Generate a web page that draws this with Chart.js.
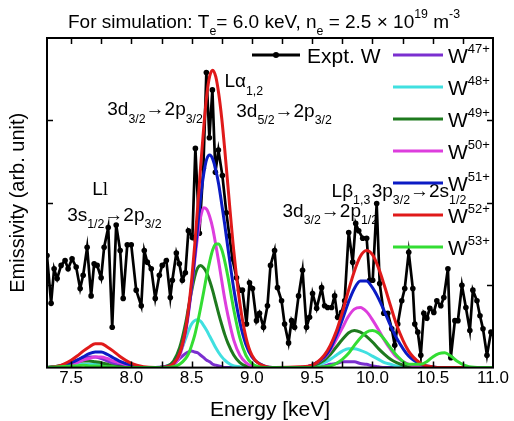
<!DOCTYPE html>
<html>
<head>
<meta charset="utf-8">
<script src="https://cdn.jsdelivr.net/npm/chart.js@4.4.1/dist/chart.umd.min.js"></script>
<style>
  html, body { margin: 0; padding: 0; background: #fff; }
</style>
</head>
<body>
<canvas id="chart" width="514" height="421"></canvas>
<script>
// ---- data -------------------------------------------------------------
// Energy grid (keV) shared by the simulated spectra
const energyGrid = [7.3, 7.4, 7.5, 7.55, 7.6, 7.65, 7.7, 7.75, 7.8, 7.85, 7.9, 8.0, 8.1, 8.2, 8.3, 8.35, 8.4, 8.45,
  8.475, 8.5, 8.525, 8.55, 8.575, 8.6, 8.625, 8.65, 8.675, 8.7, 8.725, 8.75, 8.775, 8.8,
  8.85, 8.9, 8.95, 9.0, 9.1, 9.2, 9.4, 9.5, 9.6, 9.65, 9.7, 9.75, 9.8, 9.85, 9.9, 9.95, 10.0,
  10.05, 10.1, 10.15, 10.2, 10.3, 10.4, 10.45, 10.5, 10.55, 10.6, 10.65, 10.7, 10.8, 10.9, 11.0];

// Simulated emissivity per charge state (arb. unit)
const w47 = [0.00, 0.02, 0.06, 0.09, 0.12, 0.13, 0.13, 0.11, 0.08, 0.05, 0.03, 0.01, 0.00, 0.00, 0.02, 0.05, 0.11, 0.17,
  0.19, 0.20, 0.19, 0.18, 0.15, 0.12, 0.09, 0.07, 0.04, 0.03, 0.02, 0.01, 0.00, 0.00,
  0.00, 0.00, 0.00, 0.00, 0.00, 0.00, 0.00, 0.00, 0.02, 0.04, 0.05, 0.07, 0.07, 0.07, 0.05, 0.04, 0.02,
  0.01, 0.00, 0.00, 0.00, 0.00, 0.00, 0.00, 0.00, 0.00, 0.00, 0.00, 0.00, 0.00, 0.00, 0.00];
const w48 = [0.00, 0.01, 0.03, 0.04, 0.04, 0.04, 0.04, 0.03, 0.02, 0.01, 0.00, 0.00, 0.00, 0.00, 0.02, 0.06, 0.17, 0.35,
  0.45, 0.53, 0.57, 0.58, 0.56, 0.51, 0.45, 0.38, 0.31, 0.24, 0.18, 0.13, 0.09, 0.06,
  0.02, 0.01, 0.00, 0.00, 0.00, 0.00, 0.00, 0.01, 0.06, 0.10, 0.15, 0.20, 0.23, 0.23, 0.21, 0.18, 0.14,
  0.10, 0.06, 0.04, 0.02, 0.00, 0.00, 0.00, 0.00, 0.00, 0.00, 0.00, 0.00, 0.00, 0.00, 0.00];
const w49 = [0.00, 0.02, 0.05, 0.07, 0.08, 0.08, 0.07, 0.06, 0.04, 0.02, 0.01, 0.00, 0.00, 0.00, 0.02, 0.08, 0.24, 0.54,
  0.74, 0.93, 1.10, 1.21, 1.24, 1.21, 1.15, 1.05, 0.93, 0.79, 0.65, 0.52, 0.40, 0.30,
  0.15, 0.06, 0.02, 0.01, 0.00, 0.00, 0.00, 0.02, 0.09, 0.16, 0.25, 0.34, 0.42, 0.45, 0.43, 0.38, 0.31,
  0.23, 0.16, 0.10, 0.06, 0.01, 0.00, 0.00, 0.00, 0.00, 0.00, 0.00, 0.00, 0.00, 0.00, 0.00];
const w50 = [0.00, 0.01, 0.04, 0.06, 0.09, 0.11, 0.13, 0.13, 0.11, 0.08, 0.06, 0.02, 0.00, 0.00, 0.01, 0.03, 0.14, 0.43,
  0.67, 0.97, 1.29, 1.60, 1.83, 1.94, 1.92, 1.83, 1.69, 1.49, 1.28, 1.05, 0.83, 0.64,
  0.33, 0.15, 0.06, 0.02, 0.00, 0.00, 0.00, 0.03, 0.12, 0.21, 0.34, 0.48, 0.62, 0.71, 0.73, 0.68, 0.58,
  0.46, 0.33, 0.22, 0.13, 0.04, 0.01, 0.00, 0.00, 0.00, 0.00, 0.00, 0.00, 0.00, 0.00, 0.00];
const w51 = [0.00, 0.01, 0.06, 0.09, 0.13, 0.17, 0.19, 0.19, 0.16, 0.12, 0.08, 0.03, 0.00, 0.00, 0.01, 0.05, 0.17, 0.46,
  0.70, 0.99, 1.34, 1.71, 2.07, 2.35, 2.53, 2.58, 2.53, 2.40, 2.22, 1.98, 1.73, 1.46,
  0.95, 0.55, 0.28, 0.13, 0.02, 0.00, 0.00, 0.03, 0.13, 0.23, 0.39, 0.58, 0.79, 0.96, 1.05, 1.05, 0.97,
  0.84, 0.68, 0.51, 0.36, 0.14, 0.04, 0.02, 0.01, 0.00, 0.00, 0.00, 0.00, 0.00, 0.00, 0.00];
const w52 = [0.00, 0.02, 0.09, 0.14, 0.20, 0.25, 0.29, 0.29, 0.25, 0.20, 0.14, 0.05, 0.01, 0.00, 0.01, 0.05, 0.17, 0.47,
  0.73, 1.06, 1.48, 1.95, 2.45, 2.91, 3.30, 3.54, 3.61, 3.53, 3.32, 3.02, 2.64, 2.22,
  1.41, 0.78, 0.37, 0.15, 0.02, 0.00, 0.01, 0.03, 0.15, 0.27, 0.44, 0.67, 0.93, 1.17, 1.35, 1.42, 1.37,
  1.21, 0.99, 0.75, 0.52, 0.20, 0.05, 0.02, 0.01, 0.00, 0.00, 0.00, 0.00, 0.00, 0.00, 0.00];
const w53 = [0.00, 0.01, 0.02, 0.02, 0.03, 0.02, 0.02, 0.02, 0.01, 0.01, 0.00, 0.00, 0.00, 0.00, 0.00, 0.01, 0.04, 0.11,
  0.17, 0.27, 0.39, 0.55, 0.73, 0.92, 1.12, 1.29, 1.43, 1.50, 1.50, 1.43, 1.29, 1.11,
  0.70, 0.36, 0.15, 0.05, 0.00, 0.00, 0.00, 0.00, 0.01, 0.02, 0.05, 0.10, 0.17, 0.27, 0.36, 0.43, 0.45,
  0.42, 0.34, 0.24, 0.15, 0.04, 0.04, 0.07, 0.13, 0.17, 0.18, 0.14, 0.08, 0.01, 0.00, 0.00];

// Measured spectrum
const exptEnergy = [7.300, 7.334, 7.359, 7.384, 7.417, 7.450, 7.475, 7.508, 7.542, 7.575, 7.600, 7.633, 7.666, 7.691,
  7.716, 7.749, 7.774, 7.808, 7.841, 7.874, 7.907, 7.932, 7.966, 7.999, 8.040, 8.082, 8.107, 8.132, 8.165,
  8.198, 8.232, 8.256, 8.290, 8.323, 8.340, 8.373, 8.398, 8.423, 8.448, 8.473, 8.506, 8.531, 8.564, 8.597,
  8.622, 8.647, 8.672, 8.697, 8.722, 8.755, 8.788, 8.813, 8.838, 8.872, 8.897, 8.921, 8.955, 8.980, 9.005,
  9.038, 9.063, 9.096, 9.129, 9.154, 9.188, 9.212, 9.246, 9.271, 9.304, 9.329, 9.354, 9.387, 9.420, 9.453,
  9.478, 9.503, 9.537, 9.578, 9.603, 9.628, 9.661, 9.686, 9.711, 9.744, 9.769, 9.803, 9.836, 9.861, 9.886,
  9.919, 9.952, 9.977, 10.002, 10.035, 10.060, 10.094, 10.127, 10.160, 10.185, 10.210, 10.243, 10.268,
  10.301, 10.335, 10.351, 10.376, 10.401, 10.426, 10.451, 10.476, 10.509, 10.534, 10.567, 10.592, 10.626,
  10.650, 10.684, 10.709, 10.742, 10.775, 10.808, 10.833, 10.867, 10.892, 10.917, 10.950, 10.983, 11.000];
const exptIntensity = [1.36, 0.78, 1.20, 1.08, 1.24, 1.30, 1.20, 1.32, 1.22, 0.96, 1.12, 1.46, 0.87, 1.26,
  1.24, 1.09, 1.46, 1.70, 0.49, 1.73, 1.42, 0.84, 1.49, 1.49, 0.94, 0.75, 1.42, 1.28, 1.20,
  0.84, 1.12, 1.24, 1.30, 0.85, 1.06, 1.39, 1.26, 1.06, 1.15, 1.66, 1.58, 2.66, 1.63, 2.42,
  3.58, 2.79, 3.37, 2.37, 2.64, 2.33, 1.88, 1.60, 1.32, 1.09, 0.94, 0.94, 0.53, 1.03, 0.96,
  0.57, 0.66, 0.49, 0.75, 1.24, 1.42, 0.97, 0.81, 0.53, 0.30, 0.57, 0.49, 0.87, 1.18, 0.49,
  0.61, 0.90, 0.72, 0.97, 0.75, 0.73, 0.73, 0.87, 0.61, 0.67, 0.81, 1.64, 1.28, 1.75, 1.66,
  1.57, 1.57, 1.06, 1.06, 1.99, 1.02, 0.66, 0.66, 0.47, 0.27, 0.53, 0.81, 0.96,
  1.40, 0.96, 0.53, 0.43, 0.15, 0.66, 0.60, 0.72, 0.67, 0.81, 0.75, 0.85, 1.20,
  0.12, 0.57, 0.57, 1.00, 0.73, 0.45, 0.94, 0.81, 0.63, 0.47, 0.15, 0.43, 0.41];

// Axis ticks
const xTickValues = [7.5, 8.0, 8.5, 9.0, 9.5, 10.0, 10.5, 11.0];
const xMinorValues = [7.75, 8.25, 8.75, 9.25, 9.75, 10.25, 10.75];
const yTickValues = [1, 2, 3];

// Series labels (charge state superscripts) and line colours
const seriesValues = [w47, w48, w49, w50, w51, w52, w53];
const seriesCharge = ['47+', '48+', '49+', '50+', '51+', '52+', '53+'];
const seriesColors = ['#7b2fd0', '#40e0e0', '#1e7a1e', '#dd3ddd', '#0b1bc4', '#e01a1a', '#33dd33'];

// ---- drawing ----------------------------------------------------------
const FAMILY = '"Liberation Sans", Arial, Helvetica, sans-serif';

// Draws a run of text pieces; each piece is [text, mode, family] with mode '', 'sub' or 'sup'.
function drawRich(ctx, x, y, parts, size, opt = {}) {
  const subScale = opt.subScale || 0.65;
  const subShift = opt.subShift !== undefined ? opt.subShift : 0.38;
  const supShift = opt.supShift !== undefined ? opt.supShift : 0.48;
  const fontFor = p => {
    const s = p[1] ? size * subScale : size;
    return s + 'px ' + (p[2] || FAMILY);
  };
  let width = 0;
  parts.forEach(p => { ctx.font = fontFor(p); width += ctx.measureText(p[0]).width; });
  let cx = opt.align === 'center' ? x - width / 2 : x;
  ctx.textBaseline = 'alphabetic';
  ctx.textAlign = 'left';
  parts.forEach(p => {
    ctx.font = fontFor(p);
    let dy = 0;
    if (p[1] === 'sub') dy = size * subShift;
    if (p[1] === 'sup') dy = -size * supShift;
    ctx.fillText(p[0], cx, y + dy);
    cx += ctx.measureText(p[0]).width;
  });
}

// Transition labels, anchored at (energy, emissivity) of their left baseline point
const notes = [
  { e: 7.675, v: 2.09, parts: [['L'], ['l', '', '"Liberation Serif", "Times New Roman", serif']] },
  { e: 7.467, v: 1.78, parts: [['3s'], ['1/2', 'sub'], ['\u21922p'], ['3/2', 'sub']] },
  { e: 7.800, v: 3.06, parts: [['3d'], ['3/2', 'sub'], ['\u21922p'], ['3/2', 'sub']] },
  { e: 8.772, v: 3.40, parts: [['L\u03b1'], ['1,2', 'sub']] },
  { e: 8.870, v: 3.04, parts: [['3d'], ['5/2', 'sub'], ['\u21922p'], ['3/2', 'sub']] },
  { e: 9.661, v: 2.07, parts: [['L\u03b2'], ['1,3', 'sub']] },
  { e: 9.994, v: 2.07, parts: [['3p'], ['3/2', 'sub'], ['\u21922s'], ['1/2', 'sub']] },
  { e: 9.254, v: 1.83, parts: [['3d'], ['3/2', 'sub'], ['\u21922p'], ['1/2', 'sub']] }
];

const frameTicks = {
  id: 'frameTicks',
  afterDatasetsDraw(chart) {
    const { ctx, chartArea: a, scales: { x, y } } = chart;
    ctx.save();
    ctx.strokeStyle = '#000';
    ctx.lineWidth = 2;
    ctx.strokeRect(a.left, a.top, a.right - a.left, a.bottom - a.top);
    ctx.lineWidth = 1.5;
    ctx.beginPath();
    xTickValues.concat(xMinorValues).forEach(v => {
      const px = Math.round(x.getPixelForValue(v)) + 0.5;
      if (px <= a.left + 1 || px >= a.right - 1) return;
      ctx.moveTo(px, a.bottom); ctx.lineTo(px, a.bottom - 6);
      ctx.moveTo(px, a.top); ctx.lineTo(px, a.top + 6);
    });
    yTickValues.forEach(v => {
      const py = Math.round(y.getPixelForValue(v)) + 0.5;
      ctx.moveTo(a.left, py); ctx.lineTo(a.left + 6, py);
      ctx.moveTo(a.right, py); ctx.lineTo(a.right - 6, py);
    });
    ctx.stroke();
    ctx.restore();
  }
};

const textLayer = {
  id: 'textLayer',
  afterDraw(chart) {
    const { ctx, scales: { x, y } } = chart;
    ctx.save();
    ctx.fillStyle = '#000';

    // heading
    drawRich(ctx, 264, 28, [
      ['For simulation: T'], ['e', 'sub'], ['= 6.0 keV, n'], ['e', 'sub'],
      [' = 2.5 \u00d7 10'], ['19', 'sup'], [' m'], ['-3', 'sup']
    ], 19, { align: 'center', subShift: 0.37, supShift: 0.55 });

    // transition labels
    notes.forEach(n => {
      drawRich(ctx, x.getPixelForValue(n.e), y.getPixelForValue(n.v), n.parts, 19);
    });

    // legend
    ctx.strokeStyle = '#000';
    ctx.lineWidth = 2.8;
    ctx.beginPath(); ctx.moveTo(252, 55); ctx.lineTo(300, 55); ctx.stroke();
    ctx.beginPath(); ctx.arc(276, 55, 3, 0, Math.PI * 2); ctx.fill();
    drawRich(ctx, 307, 63, [['Expt. W']], 21);
    seriesCharge.forEach((q, i) => {
      const ly = 55 + i * 32;
      ctx.strokeStyle = seriesColors[i];
      ctx.lineWidth = 3.2;
      ctx.beginPath(); ctx.moveTo(393, ly); ctx.lineTo(443, ly); ctx.stroke();
      ctx.fillStyle = '#000';
      drawRich(ctx, 448, ly + 8, [['W'], [q, 'sup']], 21, { subScale: 0.62, supShift: 0.5 });
    });
    ctx.restore();
  }
};

const datasets = seriesValues.map((vals, i) => ({
  label: 'W' + seriesCharge[i],
  data: energyGrid.map((e, k) => ({ x: e, y: vals[k] })),
  borderColor: seriesColors[i],
  borderWidth: 3,
  pointRadius: 0,
  fill: false,
  cubicInterpolationMode: 'monotone',
  order: seriesValues.length - i
}));
datasets.push({
  label: 'Expt. W',
  data: exptEnergy.map((e, k) => ({ x: e, y: exptIntensity[k] })),
  borderColor: '#000',
  backgroundColor: '#000',
  borderWidth: 2.7,
  pointRadius: 2.8,
  pointBackgroundColor: '#000',
  pointBorderWidth: 0,
  tension: 0,
  order: 100
});

new Chart(document.getElementById('chart'), {
  type: 'line',
  data: { datasets },
  options: {
    responsive: false,
    animation: false,
    layout: { padding: { top: 38, right: 21, left: 0, bottom: 0 } },
    plugins: { legend: { display: false }, title: { display: false }, tooltip: { enabled: false } },
    scales: {
      x: {
        type: 'linear',
        min: 7.3,
        max: 11.0,
        afterBuildTicks: s => { s.ticks = xTickValues.map(v => ({ value: v })); },
        ticks: {
          callback: v => Number(v).toFixed(1),
          autoSkip: false,
          maxRotation: 0,
          padding: 1,
          color: '#000',
          font: { size: 17, family: FAMILY }
        },
        grid: { display: false, drawTicks: false },
        border: { display: false },
        title: {
          display: true,
          text: 'Energy [keV]',
          color: '#000',
          font: { size: 21, family: FAMILY, lineHeight: 1.0 },
          padding: { top: 10, bottom: 0 }
        }
      },
      y: {
        type: 'linear',
        min: 0,
        max: 4,
        ticks: { display: false },
        grid: { display: false, drawTicks: false },
        border: { display: false },
        title: {
          display: true,
          text: 'Emissivity (arb. unit)',
          color: '#000',
          font: { size: 20, family: FAMILY },
          padding: { top: 6, bottom: 17 }
        }
      }
    }
  },
  plugins: [frameTicks, textLayer]
});
</script>
</body>
</html>
